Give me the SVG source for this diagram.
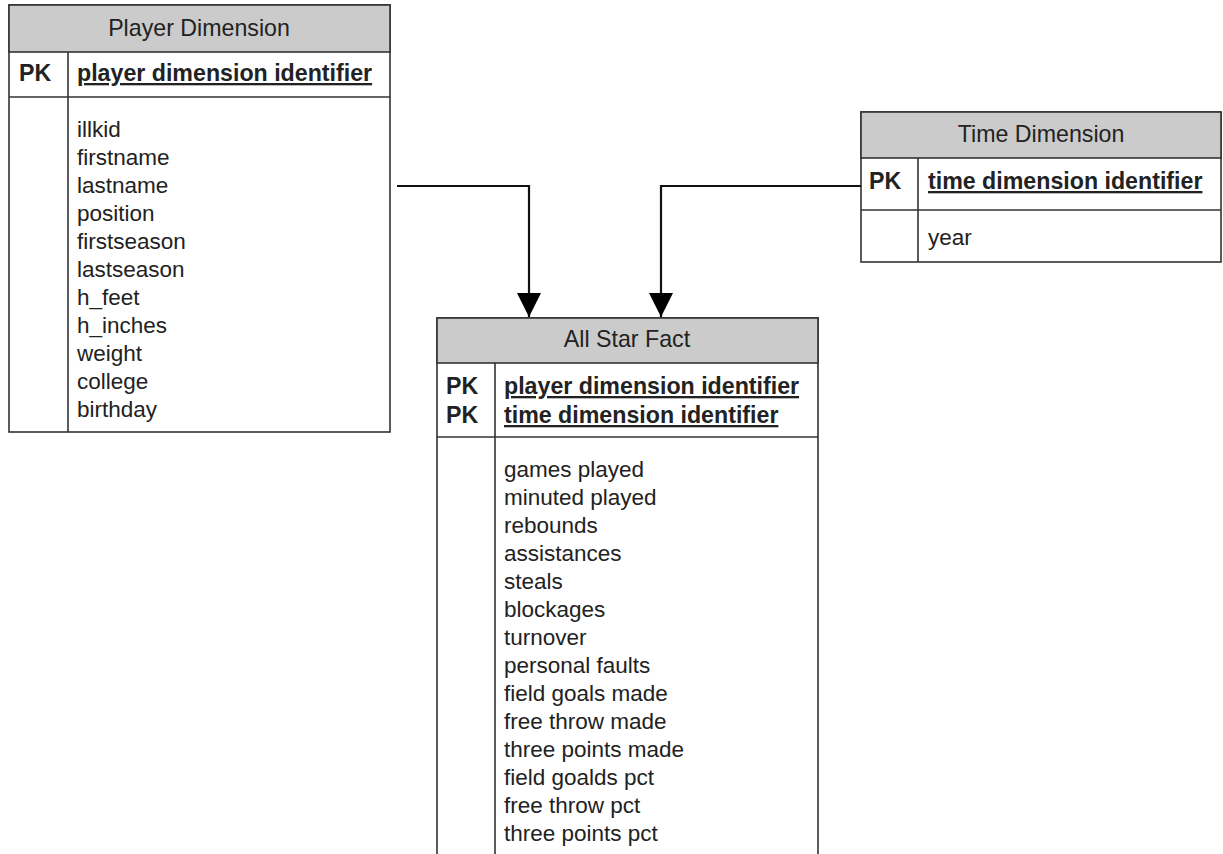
<svg xmlns="http://www.w3.org/2000/svg" width="1223" height="854" viewBox="0 0 1223 854">
<style>
.box{fill:#fff;stroke:#333;stroke-width:1.6}
.hdr{fill:#cbcbcb;stroke:#333;stroke-width:1.6}
.ln{stroke:#333;stroke-width:1.6;fill:none}
.t{font-family:"Liberation Sans",Arial,sans-serif;font-size:22.5px;fill:#222}
.title{text-anchor:middle;font-size:23.2px}
.b{font-weight:bold;font-size:23.2px}
.u{text-decoration:underline}
.conn{stroke:#111;stroke-width:2.2;fill:none}
</style>
<defs>
<marker id="arr" viewBox="0 0 24 24" refX="24" refY="12" markerWidth="24" markerHeight="24" markerUnits="userSpaceOnUse" orient="auto">
<path d="M0,0 L24,12 L0,24 Z" fill="#000"/>
</marker>
</defs>
<rect width="1223" height="854" fill="#fff"/>

<g id="player-dimension">
<rect class="box" x="9" y="5" width="381" height="427"/>
<rect class="hdr" x="9" y="5" width="381" height="47"/>
<line class="ln" x1="9" y1="97" x2="390" y2="97"/>
<line class="ln" x1="68" y1="52" x2="68" y2="432"/>
<text class="t title" x="199" y="36">Player Dimension</text>
<text class="t b" x="19" y="81">PK</text>
<text class="t b u" x="77" y="81">player dimension identifier</text>
<text class="t" x="77" y="137">illkid</text>
<text class="t" x="77" y="165">firstname</text>
<text class="t" x="77" y="193">lastname</text>
<text class="t" x="77" y="221">position</text>
<text class="t" x="77" y="249">firstseason</text>
<text class="t" x="77" y="277">lastseason</text>
<text class="t" x="77" y="305">h_feet</text>
<text class="t" x="77" y="333">h_inches</text>
<text class="t" x="77" y="361">weight</text>
<text class="t" x="77" y="389">college</text>
<text class="t" x="77" y="417">birthday</text>
</g>

<g id="time-dimension">
<rect class="box" x="861" y="112" width="360" height="150"/>
<rect class="hdr" x="861" y="112" width="360" height="46"/>
<line class="ln" x1="861" y1="210" x2="1221" y2="210"/>
<line class="ln" x1="918" y1="158" x2="918" y2="262"/>
<text class="t title" x="1041" y="142">Time Dimension</text>
<text class="t b" x="869" y="189">PK</text>
<text class="t b u" x="928" y="189">time dimension identifier</text>
<text class="t" x="928" y="245">year</text>
</g>

<g id="all-star-fact">
<rect class="box" x="437" y="318" width="381" height="545"/>
<rect class="hdr" x="437" y="318" width="381" height="45"/>
<line class="ln" x1="437" y1="437" x2="818" y2="437"/>
<line class="ln" x1="495" y1="363" x2="495" y2="860"/>
<text class="t title" x="627" y="347">All Star Fact</text>
<text class="t b" x="446" y="394">PK</text>
<text class="t b" x="446" y="423">PK</text>
<text class="t b u" x="504" y="394">player dimension identifier</text>
<text class="t b u" x="504" y="423">time dimension identifier</text>
<text class="t" x="504" y="477">games played</text>
<text class="t" x="504" y="505">minuted played</text>
<text class="t" x="504" y="533">rebounds</text>
<text class="t" x="504" y="561">assistances</text>
<text class="t" x="504" y="589">steals</text>
<text class="t" x="504" y="617">blockages</text>
<text class="t" x="504" y="645">turnover</text>
<text class="t" x="504" y="673">personal faults</text>
<text class="t" x="504" y="701">field goals made</text>
<text class="t" x="504" y="729">free throw made</text>
<text class="t" x="504" y="757">three points made</text>
<text class="t" x="504" y="785">field goalds pct</text>
<text class="t" x="504" y="813">free throw pct</text>
<text class="t" x="504" y="841">three points pct</text>
</g>

<g id="connectors">
<path class="conn" d="M397,186 H529 V317" marker-end="url(#arr)"/>
<path class="conn" d="M861,186 H661 V317" marker-end="url(#arr)"/>
</g>
</svg>
